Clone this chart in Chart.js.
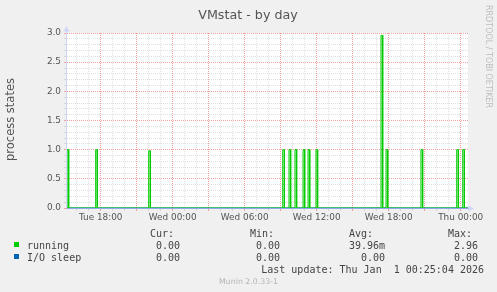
<!DOCTYPE html>
<html>
<head>
<meta charset="utf-8">
<title>VMstat - by day</title>
<script src="https://cdn.jsdelivr.net/npm/chart.js@4.4.1/dist/chart.umd.min.js"></script>
<style>
  html, body { margin: 0; padding: 0; background: #f0f0f0; }
  canvas { display: block; }
</style>
</head>
<body>
<canvas id="vmstat" width="497" height="292"></canvas>
<script>
// ---------- data (x = hours since Tue 00:00) ----------
const xTickHours = [18, 24, 30, 36, 42, 48];
const xTickLabels = ["Tue 18:00", "Wed 00:00", "Wed 06:00", "Wed 12:00", "Wed 18:00", "Thu 00:00"];
const yTickValues = [0, 0.5, 1, 1.5, 2, 2.5, 3];
const yTickLabels = ["0.0", "0.5", "1.0", "1.5", "2.0", "2.5", "3.0"];

// spikes of the "running" series: start hour and value, everything else is 0
const runningStart = [15.19, 17.58, 22.0, 33.17, 33.69, 34.19, 34.86, 35.28, 35.94, 41.36, 41.78, 44.69, 47.67, 48.17];
const runningValue = [1, 1, 0.98, 1, 1, 1, 1, 1, 1, 2.96, 1, 1, 1, 1];
// "I/O sleep" stays at 0 the whole day
const ioSleepStart = [];
const ioSleepValue = [];

const seriesNames = ["running", "I/O sleep"];
const seriesColors = ["#00cc00", "#0066b3"];
const curText = ["0.00", "0.00"];
const minText = ["0.00", "0.00"];
const avgText = ["39.96m", "0.00"];
const maxText = ["2.96", "0.00"];

const X_MIN = 15.19;
const X_MAX = 48.61;
const SAMPLE = 0.14; // width of one sample on the time axis (hours)

// build a flat-at-zero line with a square spike per sample
function buildSeries(starts, values) {
  const pts = [{ x: X_MIN - 1, y: 0 }];
  starts.forEach((s, i) => {
    pts.push({ x: s, y: 0 });
    pts.push({ x: s, y: values[i] });
    pts.push({ x: s + SAMPLE, y: values[i] });
    pts.push({ x: s + SAMPLE, y: 0 });
  });
  pts.push({ x: X_MAX + 1, y: 0 });
  return pts;
}

const MINOR = "rgba(160,160,160,0.32)";
const MAJOR = "#f2a0a0";

function xGridColor(ctx) {
  const v = ctx.tick ? ctx.tick.value : 0;
  return v % 3 === 0 ? MAJOR : MINOR;
}
function yGridColor(ctx) {
  const v = ctx.tick ? Math.round(ctx.tick.value * 10) : 0;
  return v % 5 === 0 ? MAJOR : MINOR;
}

// ---------- munin decorations: background, axes, arrows, texts ----------
const muninDecor = {
  id: "muninDecor",
  beforeDraw(chart) {
    const { ctx, chartArea: a } = chart;
    ctx.save();
    ctx.fillStyle = "#f0f0f0";
    ctx.fillRect(0, 0, chart.width, chart.height);
    ctx.fillStyle = "#ffffff";
    ctx.fillRect(a.left, a.top, a.right - a.left, a.bottom - a.top);
    ctx.restore();
  },
  afterDatasetsDraw(chart) {
    const { ctx, chartArea: a } = chart;
    const ax = Math.round(a.left) - 0.5;
    const ay = Math.round(a.bottom) + 0.5;
    ctx.save();
    ctx.lineWidth = 1;
    // y axis
    ctx.strokeStyle = "#cfd6f8";
    ctx.beginPath();
    ctx.moveTo(ax, ay);
    ctx.lineTo(ax, a.top - 2);
    ctx.stroke();
    // x axis (zero line)
    ctx.strokeStyle = "#92a9e6";
    ctx.beginPath();
    ctx.moveTo(ax, ay);
    ctx.lineTo(a.right + 1, ay);
    ctx.stroke();
    // arrows
    ctx.fillStyle = "#cfd6f8";
    ctx.beginPath();
    ctx.moveTo(ax, a.top - 7);
    ctx.lineTo(ax - 3, a.top - 1.5);
    ctx.lineTo(ax + 3, a.top - 1.5);
    ctx.closePath();
    ctx.fill();
    ctx.beginPath();
    ctx.moveTo(a.right + 6, ay);
    ctx.lineTo(a.right + 0.5, ay - 3);
    ctx.lineTo(a.right + 0.5, ay + 3);
    ctx.closePath();
    ctx.fill();
    ctx.restore();
  },
  afterDraw(chart) {
    const ctx = chart.ctx;
    ctx.save();
    ctx.textBaseline = "alphabetic";

    // title
    ctx.fillStyle = "#555";
    ctx.font = "12.7px 'DejaVu Sans'";
    ctx.textAlign = "center";
    ctx.fillText("VMstat - by day", 248, 18.5);

    // vertical axis title
    ctx.save();
    ctx.translate(13.5, 119.5);
    ctx.rotate(-Math.PI / 2);
    ctx.font = "11.5px 'DejaVu Sans'";
    ctx.fillStyle = "#555";
    ctx.fillText("process states", 0, 0);
    ctx.restore();

    // rrdtool watermark on the right
    ctx.save();
    ctx.translate(485.5, 5);
    ctx.rotate(Math.PI / 2);
    ctx.font = "8px 'DejaVu Sans'";
    ctx.fillStyle = "#bdbdbd";
    ctx.textAlign = "left";
    ctx.fillText("RRDTOOL / TOBI OETIKER", 0, 0);
    ctx.restore();

    // legend table
    ctx.font = "10px 'DejaVu Sans Mono'";
    ctx.fillStyle = "#444";
    ctx.textAlign = "left";
    ctx.fillText("Cur:", 150, 237);
    ctx.fillText("Min:", 250, 237);
    ctx.fillText("Avg:", 349, 237);
    ctx.fillText("Max:", 448, 237);

    const rowY = [249, 261];
    seriesNames.forEach((name, i) => {
      const y = rowY[i];
      ctx.fillStyle = seriesColors[i];
      ctx.fillRect(14, y - 7, 5, 5);
      ctx.fillStyle = "#444";
      ctx.textAlign = "left";
      ctx.fillText(name, 27, y);
      ctx.textAlign = "right";
      ctx.fillText(curText[i], 180, y);
      ctx.fillText(minText[i], 280, y);
      ctx.fillText(avgText[i], 385, y);
      ctx.fillText(maxText[i], 478, y);
    });

    ctx.textAlign = "right";
    ctx.fillText("Last update: Thu Jan  1 00:25:04 2026", 484, 273);

    ctx.font = "7.8px 'DejaVu Sans'";
    ctx.fillStyle = "#b4b4b4";
    ctx.textAlign = "center";
    ctx.fillText("Munin 2.0.33-1", 248.5, 284);
    ctx.restore();
  }
};

new Chart(document.getElementById("vmstat"), {
  type: "line",
  data: {
    datasets: [
      {
        label: seriesNames[0],
        data: buildSeries(runningStart, runningValue),
        borderColor: seriesColors[0],
        backgroundColor: "rgba(0,204,0,0.22)",
        borderWidth: 1,
        fill: "origin",
        pointRadius: 0,
        tension: 0,
      },
      {
        label: seriesNames[1],
        data: buildSeries(ioSleepStart, ioSleepValue),
        borderColor: seriesColors[1],
        borderWidth: 1,
        fill: false,
        pointRadius: 0,
        tension: 0,
      },
    ],
  },
  options: {
    responsive: false,
    devicePixelRatio: 1,
    animation: false,
    layout: { padding: { top: 33, right: 29, left: 0, bottom: 0 } },
    plugins: {
      legend: { display: false },
      title: { display: false },
      tooltip: { enabled: false },
    },
    scales: {
      x: {
        type: "linear",
        min: X_MIN,
        max: X_MAX,
        afterFit: (s) => { s.height = 84; },
        ticks: {
          stepSize: 1,
          autoSkip: false,
          maxRotation: 0,
          includeBounds: false,
          padding: 1,
          color: "#555",
          font: { family: "DejaVu Sans", size: 8.9 },
          callback: (v) => {
            const i = xTickHours.indexOf(v);
            return i < 0 ? "" : xTickLabels[i];
          },
        },
        grid: { color: xGridColor, tickColor: xGridColor, tickLength: 3, lineWidth: 1 },
        border: { display: false, dash: [1, 1] },
      },
      y: {
        min: 0,
        max: 3,
        afterFit: (s) => { s.width = 67; },
        ticks: {
          stepSize: 0.1,
          autoSkip: false,
          padding: 3,
          color: "#555",
          font: { family: "DejaVu Sans", size: 8.9 },
          callback: (v) => {
            const i = yTickValues.findIndex((t) => Math.abs(t - v) < 1e-6);
            return i < 0 ? "" : yTickLabels[i];
          },
        },
        grid: { color: yGridColor, tickColor: yGridColor, tickLength: 3, lineWidth: 1 },
        border: { display: false, dash: [1, 1] },
      },
    },
  },
  plugins: [muninDecor],
});
</script>
</body>
</html>
